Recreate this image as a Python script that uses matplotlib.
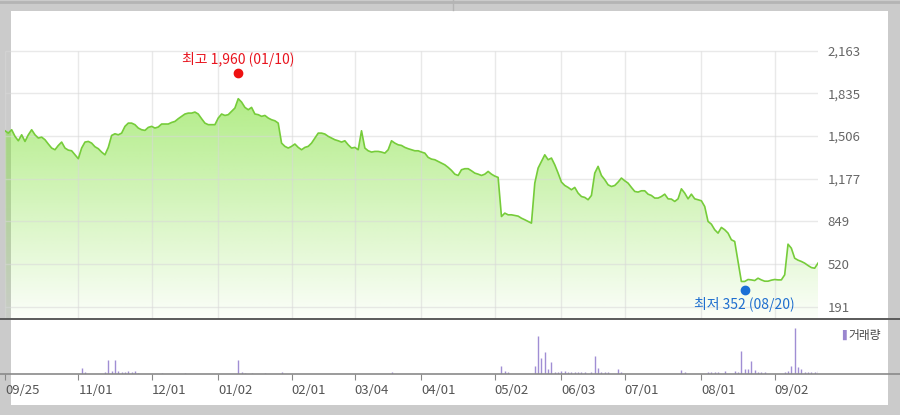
import numpy as np
import matplotlib
matplotlib.use("Agg")
import matplotlib.pyplot as plt
from matplotlib.lines import Line2D
from matplotlib.patches import Rectangle
from matplotlib.transforms import offset_copy

plt.rcParams['font.family'] = ['Noto Sans CJK KR', 'DejaVu Sans']

# daily closing prices, one per trading day (09/25 .. last day)
prices = [
    1547, 1529, 1555, 1504, 1470, 1516, 1465, 1516, 1555, 1516,
    1491, 1498, 1478, 1445, 1414, 1401, 1434, 1460, 1414, 1398,
    1393, 1362, 1332, 1414, 1460, 1465, 1452, 1424, 1409, 1383,
    1362, 1419, 1511, 1524, 1516, 1529, 1581, 1606, 1606, 1594,
    1568, 1555, 1550, 1573, 1581, 1568, 1576, 1599, 1599, 1599,
    1611, 1619, 1640, 1658, 1676, 1683, 1683, 1691, 1676, 1640,
    1606, 1594, 1594, 1594, 1645, 1676, 1665, 1671, 1696, 1722,
    1794, 1768, 1727, 1709, 1727, 1676, 1671, 1658, 1665, 1645,
    1632, 1624, 1606, 1452, 1427, 1414, 1427, 1445, 1419, 1401,
    1419, 1427, 1452, 1491, 1529, 1529, 1522, 1504, 1491, 1478,
    1470, 1460, 1470, 1439, 1414, 1419, 1401, 1547, 1414, 1393,
    1383, 1388, 1388, 1383, 1375, 1401, 1470, 1452, 1439, 1434,
    1419, 1409, 1401, 1393, 1393, 1383, 1375, 1342, 1329, 1324,
    1311, 1298, 1285, 1265, 1242, 1213, 1203, 1247, 1255, 1255,
    1239, 1221, 1213, 1203, 1213, 1234, 1213, 1198, 1188, 887,
    913, 900, 900, 895, 890, 874, 862, 849, 836, 1144,
    1260, 1311, 1362, 1324, 1337, 1285, 1221, 1152, 1126, 1111,
    1093, 1111, 1067, 1041, 1034, 1016, 1049, 1221, 1273, 1203,
    1170, 1131, 1118, 1126, 1152, 1183, 1162, 1144, 1111, 1080,
    1075, 1085, 1085, 1059, 1049, 1029, 1029, 1041, 1059, 1023,
    1021, 1003, 1023, 1100, 1067, 1023, 1059, 1023, 1016, 1008,
    964, 849, 828, 785, 759, 803, 785, 759, 708, 695,
    541, 387, 387, 402, 399, 394, 412, 399, 389, 389,
    397, 402, 399, 399, 438, 674, 643, 566, 551, 541,
    528, 510, 494, 489, 528,
]

# volume (arbitrary units), only days with a visible bar
vol_days = [23, 24, 30, 31, 32, 33, 34, 35, 36, 37, 38, 39, 40, 47, 54,
            70, 71, 72, 74, 78, 83, 116,
            149, 150, 151, 159, 160, 161, 162, 163, 164, 165, 166, 167, 168,
            169, 170, 171, 172, 173, 174, 176, 177, 178, 179, 180, 181, 184, 185,
            203, 204, 211, 212, 213, 214, 216, 219, 220, 221, 222, 223, 224,
            225, 226, 227, 228,
            234, 235, 236, 237, 238, 239, 240, 241, 242, 243, 244]
vol_vals = [18, 5, 5, 41, 8, 41, 8, 5, 5, 8, 5, 8, 3, 3, 3,
            41, 5, 3, 3, 3, 6, 5,
            23, 8, 5, 23, 113, 48, 66, 15, 35, 5, 5, 8, 8,
            5, 5, 5, 5, 5, 5, 5, 55, 18, 5, 5, 5, 15, 5,
            11, 5, 5, 5, 5, 5, 8, 8, 5, 70, 15, 15, 40,
            11, 5, 5, 5,
            5, 8, 23, 138, 20, 15, 5, 5, 5, 5, 8]

date_idx = [0, 22, 44, 64, 86, 105, 125, 147, 167, 186, 209, 231]
date_labels = ["09/25", "11/01", "12/01", "01/02", "02/01", "03/04",
               "04/01", "05/02", "06/03", "07/01", "08/01", "09/02"]
price_ticks = [191, 520, 849, 1177, 1506, 1835, 2163]

high_idx, high_val, high_text = 70, 1960, "최고 1,960 (01/10)"
low_idx, low_val, low_text = 222, 352, "최저 352 (08/20)"

W, H = 900, 415
fig = plt.figure(figsize=(9, 4.15), dpi=100, facecolor="#cbcbcb")

# white panel inside the grey frame
fig.add_artist(Rectangle((11 / W, 1 - 405 / H), 877 / W, 394 / H,
                         transform=fig.transFigure, facecolor="white",
                         edgecolor="none", zorder=0))
fig.add_artist(Line2D([0, 1], [1 - 2.5 / H] * 2, color="#b4b4b4", lw=2))
fig.add_artist(Line2D([453 / W] * 2, [1, 1 - 10 / H], color="#b4b4b4", lw=1))

x = np.arange(len(prices))
n = len(prices) - 1
left, right = 5 / W, 818 / W
ylo, yhi = 98, 2469

ax = fig.add_axes([left, 1 - 319 / H, right - left, 308 / H])
ax.patch.set_alpha(0)
ax.set_xlim(0, n)
ax.set_ylim(ylo, yhi)
for s in ax.spines.values():
    s.set_visible(False)

ax.hlines(price_ticks, 0, n, color="#d8d8d8", alpha=0.55, lw=1, zorder=3)
ax.vlines(date_idx, ylo, price_ticks[-1], color="#d8d8d8", alpha=0.55, lw=1, zorder=3)

# gradient fill under the line
poly = ax.fill_between(x, prices, ylo, color="none", lw=0)
grad = np.zeros((256, 2, 4))
grad[:, :, 0] = 0x82 / 255
grad[:, :, 1] = 0xe1 / 255
grad[:, :, 2] = 0x3c / 255
grad[:, :, 3] = np.linspace(0.03, 0.74, 256)[:, None]
img = ax.imshow(grad, extent=[0, n, ylo, price_ticks[-1]], origin="lower",
                aspect="auto", zorder=2, interpolation="bilinear")
img.set_clip_path(poly.get_paths()[0], transform=ax.transData)
ax.plot(x, prices, color="#76cc3a", lw=1.2, zorder=4)

ax.yaxis.tick_right()
ax.set_yticks(price_ticks)
ax.set_yticklabels([f"{v:,}" for v in price_ticks], fontsize=9.5, color="#666666")
ax.tick_params(axis="y", length=0, pad=7)
ax.set_xticks([])

up = offset_copy(ax.transData, fig=fig, x=0, y=3, units="points")
dn = offset_copy(ax.transData, fig=fig, x=0, y=-3, units="points")
ax.plot(high_idx, high_val, "o", color="#ee1111", ms=6, transform=up, zorder=5)
ax.plot(low_idx, low_val, "o", color="#1a6fd6", ms=6, transform=dn, zorder=5)
ax.annotate(high_text, (high_idx, high_val), xytext=(0, 13), textcoords="offset points",
            ha="center", va="center", fontsize=10, color="#e8141e")
ax.annotate(low_text, (low_idx, low_val), xytext=(0, -13), textcoords="offset points",
            ha="center", va="center", fontsize=10, color="#1f6fcf")

# volume panel
axv = fig.add_axes([left, 1 - 374 / H, right - left, 55 / H])
axv.patch.set_alpha(0)
axv.set_xlim(0, n)
axv.set_ylim(0, 165)
for s in axv.spines.values():
    s.set_visible(False)
axv.vlines(vol_days, 0, vol_vals, color="#a08ed4", lw=1.0)
axv.set_yticks([])
axv.set_xticks(date_idx)
axv.set_xticklabels(date_labels, fontsize=9.5, color="#555555")
for lbl in axv.get_xticklabels():
    lbl.set_horizontalalignment("left")
axv.tick_params(axis="x", length=4, color="#888888", pad=3)

fig.add_artist(Line2D([0, 1], [1 - 319 / H] * 2, color="#5a5a5a", lw=1.4))
fig.add_artist(Line2D([0, 1], [1 - 374 / H] * 2, color="#8a8a8a", lw=1.2))

fig.text(842 / W, 1 - 335 / H, "▌", color="#9a86cf", fontsize=7,
         va="center", ha="left", family=["DejaVu Sans"])
fig.text(848 / W, 1 - 335 / H, "거래량", color="#444444", fontsize=8.5,
         va="center", ha="left")

fig.savefig("out.png", dpi=100, facecolor=fig.get_facecolor())
